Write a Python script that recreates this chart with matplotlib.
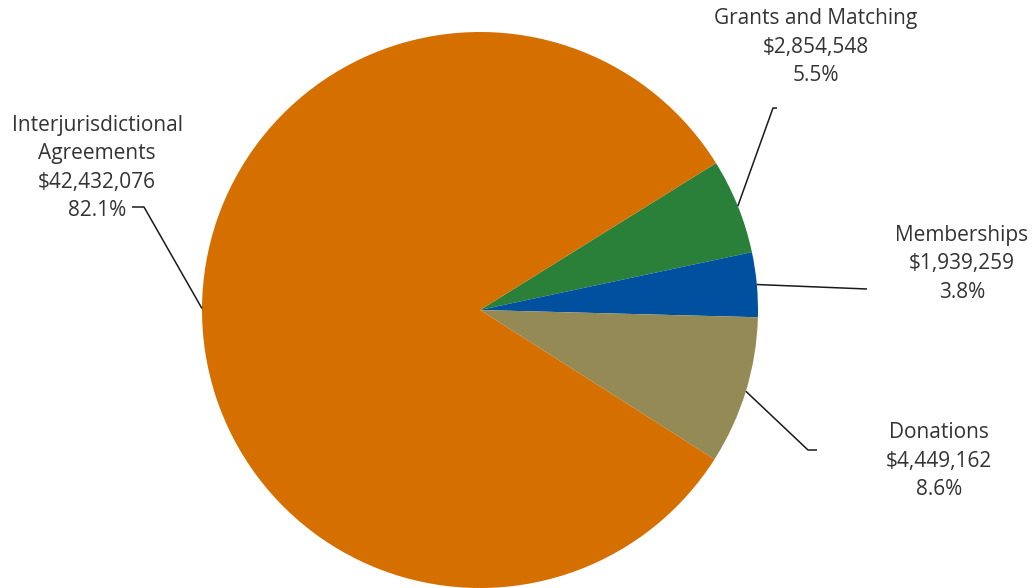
import numpy as np
import matplotlib.pyplot as plt

labels = ["Grants and Matching", "Memberships", "Donations", "Interjurisdictional\nAgreements"]
values = [2854548, 1939259, 4449162, 42432076]
colors = ["#2A8038", "#0050A0", "#948A56", "#D46F00"]

# label text block centres (pixels) and leader elbows
text_pos = [(816, 47), (962, 264), (939, 461), (97, 168)]
elbows = [[(773, 108), (777, 108)], [(867, 289)], [(808, 450), (817, 450)], [(144, 207), (132, 207)]]

W, H = 1034, 588
fig = plt.figure(figsize=(W / 100, H / 100), dpi=100)
ax = fig.add_axes([0, 0, 1, 1])

cx, cy, r = 480, H - 310, 278
wedges, _ = ax.pie(values, colors=colors, startangle=31.9, counterclock=False,
                   center=(cx, cy), radius=r, frame=True,
                   wedgeprops=dict(linewidth=0))
ax.set_xlim(0, W)
ax.set_ylim(0, H)
ax.set_aspect("equal")
ax.axis("off")

total = sum(values)
for w, lab, v, (tx, ty), elb in zip(wedges, labels, values, text_pos, elbows):
    mid = np.deg2rad((w.theta1 + w.theta2) / 2)
    x0, y0 = cx + r * np.cos(mid), cy + r * np.sin(mid)
    xs = [x0] + [p[0] for p in elb]
    ys = [y0] + [H - p[1] for p in elb]
    ax.plot(xs, ys, color="#1a1a1a", lw=1.1, solid_capstyle="butt")
    txt = f"{lab}\n${v:,.0f}\n{v / total * 100:.1f}%"
    ax.text(tx, H - ty, txt, ha="center", va="center", multialignment="center",
            fontsize=15, family="Open Sans", color="#333333", linespacing=1.45)

fig.savefig("out.png", dpi=100, facecolor="white")
